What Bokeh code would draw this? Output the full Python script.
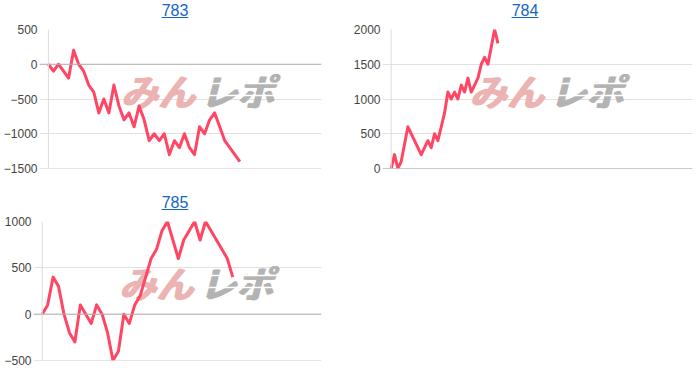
from bokeh.plotting import figure
from bokeh.models import Div, FixedTicker, Span, ColumnDataSource
from bokeh.layouts import column, row
from bokeh.core.properties import value
from bokeh.embed import file_html
from bokeh.resources import INLINE

# ---- data ----
titles = ["783", "784", "785"]
s783 = [0, -100, 0, -100, -200, 200, 0, -100, -300, -400,
        -700, -500, -700, -300, -600, -800, -700, -900, -600, -800,
        -1100, -1000, -1100, -1000, -1300, -1100, -1200, -1000, -1200, -1300,
        -900, -1000, -800, -700, -900, -1100, -1200, -1300, -1400]
s784 = [0, 200, 0, 100, 350, 600, 500, 400, 300, 200,
        300, 400, 300, 500, 400, 600, 800, 1100, 1000, 1100,
        1000, 1200, 1100, 1300, 1100, 1200, 1300, 1500, 1600, 1500,
        1750, 2000, 1800]
s785 = [0, 100, 400, 300, 0, -200, -300, 100, 0, -100,
        100, 0, -200, -500, -400, 0, -100, 100, 200, 400,
        600, 700, 900, 1000, 800, 600, 800, 900, 1000, 800,
        1000, 900, 800, 700, 600, 400]
yticks783 = [-1500, -1000, -500, 0, 500]
yticks784 = [0, 500, 1000, 1500, 2000]
yticks785 = [-500, 0, 500, 1000]
xr783 = (-1.77, 54.2)
xr784 = (-2.6, 90.3)
xr785 = (-1.6, 51.3)

LINE = "#ff4664"
FONT = "Liberation Sans"
WM_FONT = "Noto Sans CJK JP"


def title_div(label):
    html = ('<div style="width:350px;text-align:center;padding-top:2px;margin:0;'
            "font-family:'Liberation Sans',Arial,sans-serif;font-size:16px;line-height:18px;\">"
            '<a href="#" style="color:#1565c0;text-decoration:underline;font-size:16px;'
            "font-family:'Liberation Sans',Arial,sans-serif;\">%s</a></div>" % label)
    return Div(text=html, width=350, height=22, margin=0,
               styles={"font-size": "16px", "font-family": "'Liberation Sans', Arial, sans-serif"})


def make(label, vals, yticks, xr, left, right):
    W, H, top, bottom = 350, 170, 7, 24
    p = figure(width=W, height=H, x_range=xr, y_range=(yticks[0], yticks[-1]),
               output_backend="svg", toolbar_location=None,
               min_border_left=left, min_border_right=right,
               min_border_top=top, min_border_bottom=bottom, margin=0)
    p.outline_line_color = None
    p.background_fill_color = "white"
    p.border_fill_color = "white"
    p.xaxis.visible = False
    p.xgrid.visible = False
    ax = p.yaxis[0]
    ax.ticker = FixedTicker(ticks=yticks)
    ax.axis_line_color = None
    ax.major_tick_line_color = None
    ax.minor_tick_line_color = None
    ax.major_tick_out = 0
    ax.major_tick_in = 0
    ax.major_label_standoff = 2
    ax.major_label_text_font = FONT
    ax.major_label_text_font_size = "12px"
    ax.major_label_text_color = "#444444"
    p.ygrid.grid_line_color = "#e2e2e2"

    # frame geometry for placing the watermark (decoration, not data)
    fw = W - left - right
    fh = H - top - bottom
    def dx(px):
        return xr[0] + (px - left) / fw * (xr[1] - xr[0])
    def dy(py):
        return yticks[-1] - py / fh * (yticks[-1] - yticks[0])
    wm = ColumnDataSource(dict(x=[dx(156)], y=[dy(60)], t=["みん"]))
    wm2 = ColumnDataSource(dict(x=[dx(236)], y=[dy(60)], t=["レポ"]))
    for off in (-1, 0, 1):
        p.text("x", "y", text="t", source=wm, text_font=value(WM_FONT),
               text_font_size="37px", text_font_style="bold italic",
               text_color="#ecb3b3", x_offset=off,
               text_align="center", text_baseline="middle")
        p.text("x", "y", text="t", source=wm2, text_font=value(WM_FONT),
               text_font_size="37px", text_font_style="bold italic",
               text_color="#b3b3b3", x_offset=off,
               text_align="center", text_baseline="middle")
    # streaks across the grey part of the watermark
    st = ColumnDataSource(dict(x0=[dx(196), dx(200)], x1=[dx(282), dx(282)],
                               y0=[dy(54), dy(66)], y1=[dy(54), dy(66)]))
    p.segment("x0", "y0", "x1", "y1", source=st, line_color="white", line_width=1.5)

    p.add_layout(Span(location=yticks[0], dimension="width", line_color="#cccccc", line_width=1))
    p.add_layout(Span(location=0, dimension="width", line_color="#b0b0b0", line_width=1))
    p.add_layout(Span(location=0, dimension="height", line_color="#dcdcdc", line_width=1))

    src = ColumnDataSource(dict(x=list(range(len(vals))), y=vals))
    p.line("x", "y", source=src, line_color=LINE, line_width=3, line_join="round")
    return column(title_div(label), p, spacing=0, margin=0)


c1 = make(titles[0], s783, yticks783, xr783, 36, 29)
c2 = make(titles[1], s784, yticks784, xr784, 31, 8)
c3 = make(titles[2], s785, yticks785, xr785, 33, 29)

layout = column(row(c1, c2, spacing=0, margin=0), row(c3, spacing=0, margin=0), spacing=0, margin=0)
open("out.html", "w").write(file_html(layout, INLINE))
